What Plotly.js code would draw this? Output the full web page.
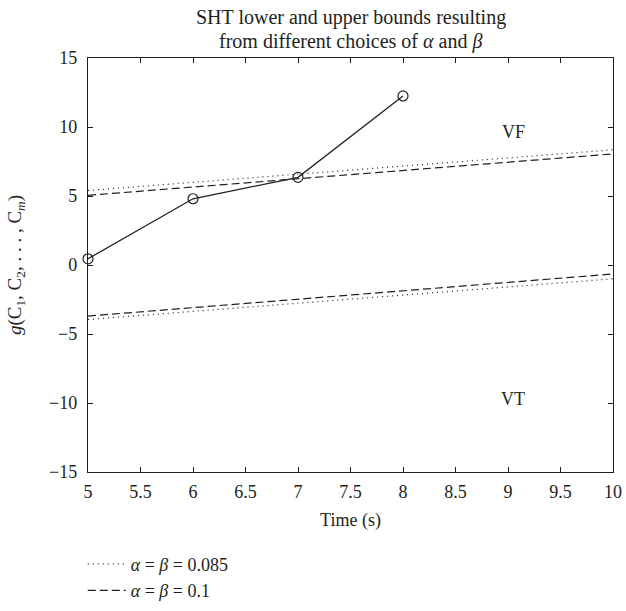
<!DOCTYPE html>
<html>
<head>
<meta charset="utf-8">
<script src="https://cdn.plot.ly/plotly-3.0.1.min.js"></script>
<style>html,body{margin:0;padding:0;background:#fff;}</style>
</head>
<body>
<div id="chart" style="width:626px;height:611px;"></div>
<script>
// Observed statistic
const obsTime = [5, 6, 7, 8];
const obsValue = [0.45, 4.8, 6.35, 12.25];

// Bound lines (time endpoints)
const boundTime = [5, 10];
const upper085 = [5.4, 8.35];
const lower085 = [-3.95, -1.0];
const upper01 = [5.05, 8.05];
const lower01 = [-3.7, -0.65];

const legend085 = '<i>α</i> = <i>β</i> = 0.085';
const legend01 = '<i>α</i> = <i>β</i> = 0.1';
const titleLine1 = 'SHT lower and upper bounds resulting';
const titleLine2 = 'from different choices of <i>α</i> and <i>β</i>';

const xTicks = [5, 5.5, 6, 6.5, 7, 7.5, 8, 8.5, 9, 9.5, 10];
const yTicks = [-15, -10, -5, 0, 5, 10, 15];

const FONT = 'Liberation Serif, Times New Roman, serif';
const INK = '#231f20';
const FS = 18;

const traces = [
  {x: boundTime, y: upper085, mode: 'lines', name: legend085, legendgroup: 'a',
   line: {color: INK, width: 1.2, dash: '1px,4px'}},
  {x: boundTime, y: lower085, mode: 'lines', name: legend085, legendgroup: 'a', showlegend: false,
   line: {color: INK, width: 1.2, dash: '1px,4px'}},
  {x: boundTime, y: upper01, mode: 'lines', name: legend01, legendgroup: 'b',
   line: {color: INK, width: 1.2, dash: '8px,4px'}},
  {x: boundTime, y: lower01, mode: 'lines', name: legend01, legendgroup: 'b', showlegend: false,
   line: {color: INK, width: 1.2, dash: '8px,4px'}},
  {x: obsTime, y: obsValue, mode: 'lines+markers', showlegend: false, cliponaxis: false,
   line: {color: INK, width: 1.3},
   marker: {symbol: 'circle-open', size: 10, color: INK, line: {width: 1.2, color: INK}}}
];

const layout = {
  width: 626, height: 611,
  margin: {l: 88, r: 13, t: 58, b: 139, autoexpand: false},
  paper_bgcolor: '#fff', plot_bgcolor: '#fff',
  font: {family: FONT, size: FS, color: INK},
  xaxis: {range: [5, 10], tickvals: xTicks, ticktext: xTicks.map(String),
          ticks: 'inside', ticklen: 5, tickcolor: INK, tickwidth: 1,
          showline: true, linecolor: INK, linewidth: 1.2, mirror: 'ticks',
          showgrid: false, zeroline: false, ticklabelstandoff: 3, automargin: false,
          tickfont: {family: FONT, size: FS, color: INK},
          title: {text: 'Time (s)', standoff: 12, font: {family: FONT, size: FS, color: INK}}},
  yaxis: {range: [-15, 15], tickvals: yTicks, ticktext: yTicks.map(v => v < 0 ? '−' + Math.abs(v) : String(v)),
          ticks: 'inside', ticklen: 5, tickcolor: INK, tickwidth: 1,
          showline: true, linecolor: INK, linewidth: 1.2, mirror: 'ticks',
          showgrid: false, zeroline: false, ticklabelstandoff: 6, automargin: false,
          tickfont: {family: FONT, size: FS, color: INK},
          title: {text: '<i>g</i>(C<sub>1</sub>, C<sub>2</sub>, . . . , C<sub><i>m</i></sub>)', standoff: 22,
                  font: {family: FONT, size: 19, color: INK}}},
  legend: {x: -0.01, xanchor: 'left', y: -0.178, yanchor: 'top', bgcolor: 'rgba(0,0,0,0)',
           font: {family: FONT, size: FS, color: INK}, tracegroupgap: 0, itemwidth: 38},
  annotations: [
    {x: 0.5, y: 1.099, xref: 'paper', yref: 'paper', yanchor: 'middle', text: titleLine1, showarrow: false,
     font: {family: FONT, size: 20, color: INK}},
    {x: 0.5, y: 1.041, xref: 'paper', yref: 'paper', yanchor: 'middle', text: titleLine2, showarrow: false,
     font: {family: FONT, size: 20, color: INK}},
    {x: 9.05, y: 9.65, xref: 'x', yref: 'y', text: 'VF', showarrow: false, font: {family: FONT, size: FS, color: INK}},
    {x: 9.05, y: -9.7, xref: 'x', yref: 'y', text: 'VT', showarrow: false, font: {family: FONT, size: FS, color: INK}}
  ]
};

Plotly.newPlot('chart', traces, layout, {displayModeBar: false, staticPlot: true});
</script>
</body>
</html>
